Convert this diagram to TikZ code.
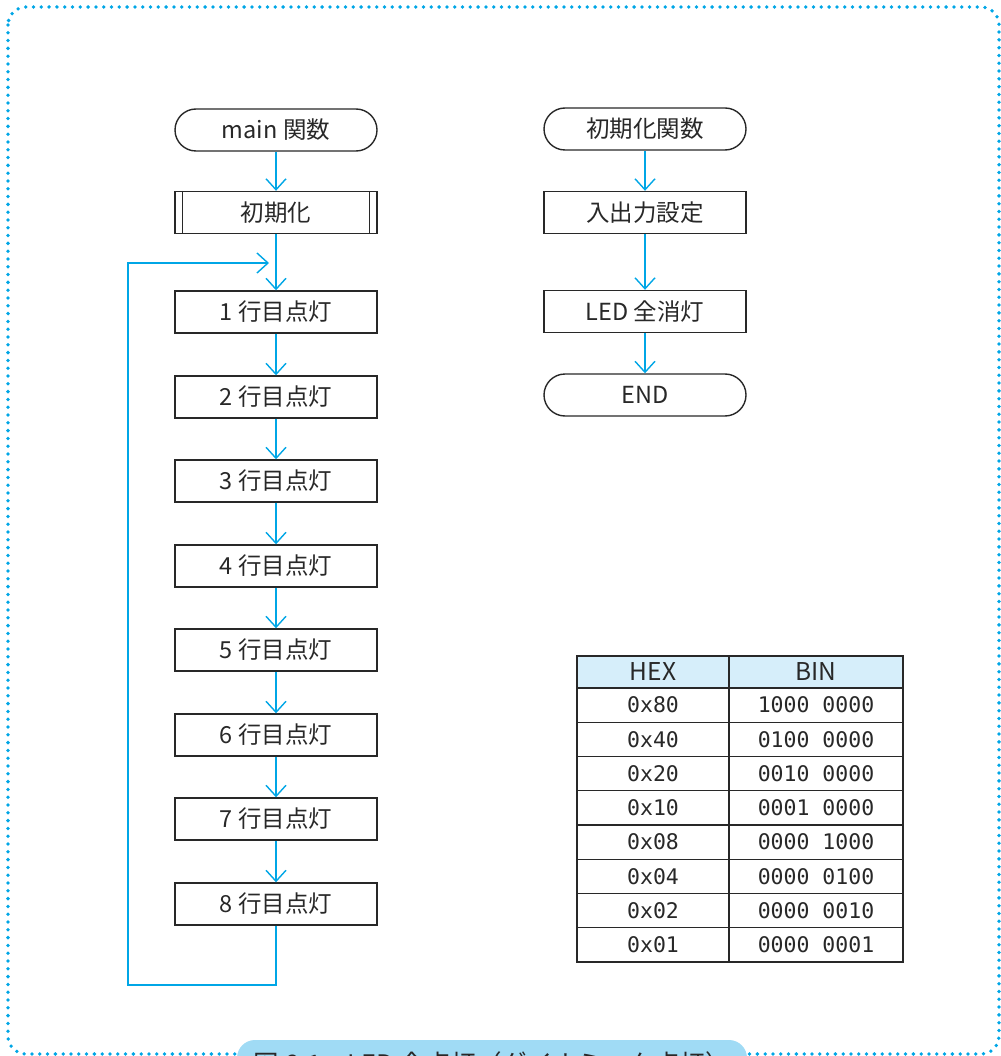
\documentclass[tikz,border=0pt]{standalone}
\usepackage{fontspec}
\setmainfont{Noto Sans CJK JP}
\newfontfamily\monofont{DejaVu Sans Mono}
\usetikzlibrary{arrows.meta}
\definecolor{lblue}{RGB}{0,166,230}
\definecolor{hdr}{RGB}{214,238,250}
\definecolor{tabc}{RGB}{160,219,245}
\definecolor{ink}{RGB}{40,40,40}
\begin{document}
\begin{tikzpicture}[x=1pt,y=-1pt,
  box/.style={draw=ink,line width=1.4pt,minimum width=202pt,minimum height=42pt,inner sep=0pt,text=ink,font=\fontsize{23.5}{27}\selectfont},
  term/.style={box,rounded corners=21pt},
  flow/.style={draw=lblue,line width=1.4pt,-{Straight Barb[length=11pt,width=20pt,line width=1.4pt]}},
  cell/.style={draw=ink,line width=1.4pt,inner sep=0pt,text=ink},
  hcell/.style={cell,fill=hdr,minimum height=32pt,font=\fontsize{24.5}{27}\selectfont},
  vcell/.style={cell,minimum height=34.25pt,font=\fontsize{21.5}{26}\monofont}]
\useasboundingbox (0,0) rectangle (1000,1056);
% outer dotted frame
\draw[lblue,line width=3.8pt,line cap=round,dash pattern=on 0pt off 7.8pt,rounded corners=18pt] (8,7) rectangle (999,1054);
% caption tab
\fill[tabc,rounded corners=18pt] (237,1090) -- (237,1040) -- (747,1040) -- (747,1090) -- cycle;
\node[text=ink,font=\fontsize{25.5}{30}\selectfont] (cap) at (492,1064) {図 6-1　LED 全点灯（ダイナミック点灯）};
% left flow
\node[term] (main) at (276,130) {main 関数};
\node[box] (init) at (276,212.5) {初期化};
\draw[ink,line width=1.4pt] ([xshift=8pt]init.north west) -- ([xshift=8pt]init.south west);
\draw[ink,line width=1.4pt] ([xshift=-8pt]init.north east) -- ([xshift=-8pt]init.south east);
\foreach \i/\y in {1/312,2/397,3/481,4/566,5/650,6/735,7/819,8/904}{
  \node[box] (r\i) at (276,\y) {\i\ 行目点灯};
}
\draw[flow] (main) -- (init);
\draw[flow] (init) -- (r1);
\foreach \a/\b in {1/2,2/3,3/4,4/5,5/6,6/7,7/8}{
  \draw[flow] (r\a) -- (r\b);
}
\coordinate (lb) at (128,985);
\coordinate (lt) at (128,263);
\coordinate (le) at (269,263);
\draw[flow] (r8.south) |- (lb) -- (lt) -- (le);
% right flow
\node[term] (ifn) at (645,129) {初期化関数};
\node[box] (io) at (645,212.5) {入出力設定};
\node[box] (off) at (645,311.5) {LED 全消灯};
\node[term] (endn) at (645,395) {END};
\draw[flow] (ifn) -- (io);
\draw[flow] (io) -- (off);
\draw[flow] (off) -- (endn);
% table
\node[hcell,minimum width=152pt] (hh) at (653,672) {HEX};
\node[hcell,minimum width=174pt] (hb) at (816,672) {BIN};
\foreach \i/\h/\b in {0/0x80/1000 0000,1/0x40/0100 0000,2/0x20/0010 0000,3/0x10/0001 0000,4/0x08/0000 1000,5/0x04/0000 0100,6/0x02/0000 0010,7/0x01/0000 0001}{
  \node[vcell,minimum width=152pt] (th\i) at (653,{705.125+34.25*\i}) {\h};
  \node[vcell,minimum width=174pt] (tb\i) at (816,{705.125+34.25*\i}) {\b};
}
\end{tikzpicture}
\end{document}
